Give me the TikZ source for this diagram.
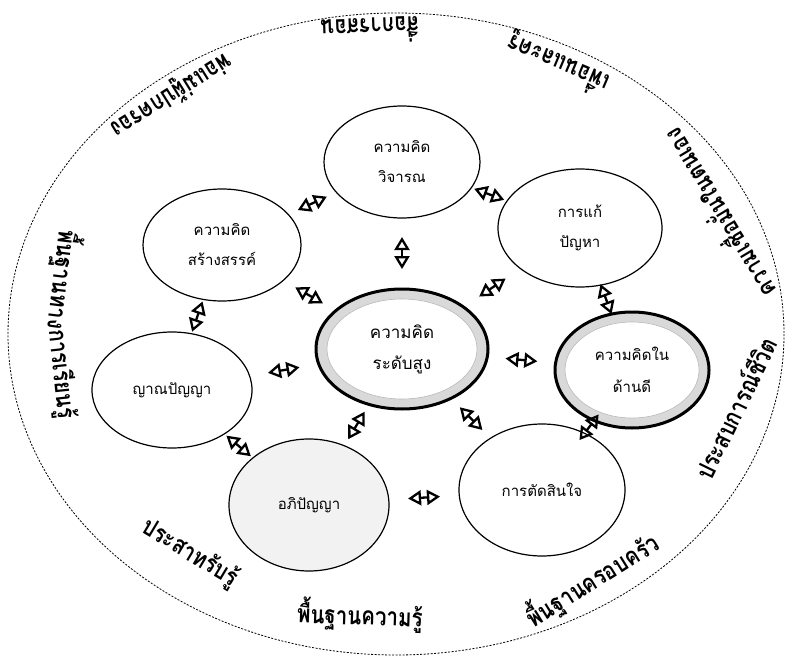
\documentclass[tikz,border=0pt]{standalone}
\usepackage{fontspec}
\newfontfamily\thai[Script=Thai]{Loma}
\newfontfamily\thairing[Script=Thai, FakeStretch=0.82]{Loma}
\usetikzlibrary{arrows.meta,shapes.geometric,calc}
\newcommand\biarrow[2]{%
  \path (#1) -- (#2) coordinate[pos=0.5] (mid-#1-#2);
  \draw[dbl] ($(mid-#1-#2)!16pt!(#1.center)$) -- ($(mid-#1-#2)!16pt!(#2.center)$);}
\begin{document}
\begin{tikzpicture}[x=1pt,y=-1pt,
  bub/.style={ellipse, draw=black, line width=1.2pt, inner sep=0pt, align=center,
              font=\thai\fontsize{15}{30}\selectfont},
  ringtxt/.style={font=\thairing\bfseries\fontsize{25}{27}\selectfont, inner sep=0pt},
  dbl/.style={{Triangle[open,length=13pt,width=15pt]}-{Triangle[open,length=13pt,width=15pt]},
              line width=2.3pt, black}
]
\useasboundingbox (0,0) rectangle (791,660);
\draw[line width=0.8pt, dash pattern=on 2pt off 1.5pt] (396,334) ellipse [x radius=388, y radius=321];

% nodes
\node[bub, minimum width=156, minimum height=112] (crit) at (402,162) {ความคิด\\วิจารณ};
\node[bub, minimum width=164, minimum height=118] (solve) at (580,228) {การแก้\\ปัญหา};
\node[bub, minimum width=158, minimum height=112] (create) at (222,245) {ความคิด\\สร้างสรรค์};
\node[bub, minimum width=160, minimum height=116] (intu) at (172,390) {ญาณปัญญา};
\node[bub, fill=gray!10, minimum width=160, minimum height=132] (meta) at (309,505) {อภิปัญญา};
\node[bub, minimum width=166, minimum height=132] (dec) at (542,490) {การตัดสินใจ};

\node[ellipse, draw=black, line width=3pt, fill=gray!30, minimum width=172, minimum height=120, inner sep=0pt] (hot) at (402,349) {};
\node[ellipse, fill=white, draw=gray!55, line width=0.6pt, minimum width=150, minimum height=100, inner sep=0pt,
      align=center, font=\thai\fontsize{17}{31}\selectfont] (hotin) at (hot.center) {ความคิด\\ระดับสูง};

\node[ellipse, draw=black, line width=3pt, fill=gray!30, minimum width=154, minimum height=116, inner sep=0pt] (pos) at (632,370) {};
\node[ellipse, fill=white, draw=gray!55, line width=0.6pt, minimum width=134, minimum height=96, inner sep=0pt,
      align=center, font=\thai\fontsize{15}{32}\selectfont] (posin) at (pos.center) {ความคิดใน\\ด้านดี};

% connectors
\biarrow{create}{crit}
\biarrow{crit}{solve}
\biarrow{crit}{hot}
\biarrow{create}{hot}
\biarrow{solve}{hot}
\biarrow{solve}{pos}
\biarrow{create}{intu}
\biarrow{intu}{hot}
\biarrow{hot}{pos}
\biarrow{hot}{meta}
\biarrow{hot}{dec}
\biarrow{pos}{dec}
\biarrow{intu}{meta}
\biarrow{meta}{dec}

% ring texts
\node[ringtxt, rotate=182] (r1) at (370,31) {สื่อการสอน};
\node[ringtxt, rotate=157] (r2) at (558,64) {เพื่อนและครู};
\node[ringtxt, rotate=212] (r3) at (171,95) {พ่อแม่ผู้ปกครอง};
\node[ringtxt, rotate=121] (r4) at (717,215) {ความเชื่อมั่นในตนเอง};
\node[ringtxt, rotate=-97] (r5a) at (63,280) {พื้นฐานทาง};
\node[ringtxt, rotate=-84] (r5b) at (61,374) {การเรียนรู้};
\node[ringtxt, rotate=64] (r6) at (735,408) {ประสบการณ์ชีวิต};
\node[ringtxt, rotate=32] (r7) at (592,580) {พื้นฐานครอบครัว};
\node[ringtxt, rotate=-2] (r8) at (360,615) {พื้นฐานความรู้};
\node[ringtxt, rotate=-31] (r9) at (190,553) {ประสาทรับรู้};
\end{tikzpicture}
\end{document}
